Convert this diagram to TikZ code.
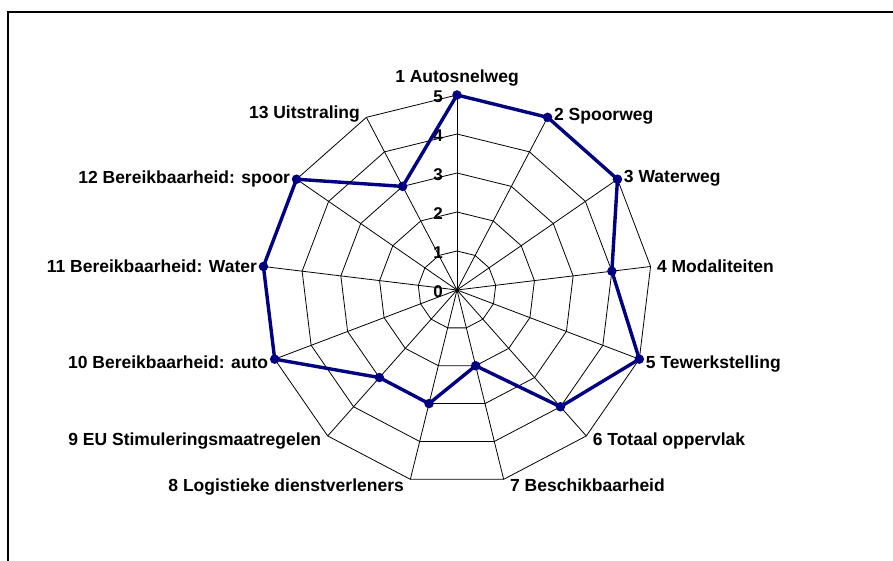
\documentclass[tikz,border=0pt]{standalone}
\usepackage{fontspec}
\setmainfont{Liberation Sans}
\usepackage{tikz}
\usepackage{xcolor}
\definecolor{navyline}{RGB}{0,0,128}

\begin{document}
\begin{tikzpicture}[x=1pt, y=1pt,
    gridline/.style={black, line width=0.8pt},
    serie/.style={draw=navyline, line width=3.4pt, line join=round},
    punt/.style={circle, fill=navyline, inner sep=0pt, minimum size=9.5pt},
    aslabel/.style={font=\fontsize{17.5}{20}\selectfont\bfseries, inner sep=2pt, outer sep=4.5pt, text depth=0pt},
    ticklabel/.style={font=\fontsize{17}{20}\selectfont\bfseries, inner sep=0pt, text depth=0pt, anchor=east}]

          % Variables
          \def \stap  {39}
          \def \nas   {13}

          % Picture size
          \useasboundingbox (-457,-271) rectangle (436,290);

          % Frame
          \draw[line width=1.3pt] (-449,-300) -- (-449,278) -- (460,278);

          \coordinate (O) at (0,0);

          % Spokes
          \foreach \k [evaluate=\k as \ang using 90-(\k-1)*360/\nas] in {1,...,\nas} {
            \coordinate (a\k) at (\ang:5*\stap);
            \draw[gridline] (O) -- (a\k);
          }

          % Rings
          \foreach \lvl in {1,...,5} {
            \draw[gridline] (90:\lvl*\stap)
              \foreach \k in {1,...,12} { -- ({90-\k*360/\nas}:\lvl*\stap) } -- cycle;
          }

          % Scale labels
          \foreach \lvl in {0,...,5} {
            \node[ticklabel] (t\lvl) at (-14,\lvl*\stap-2) {\lvl};
          }

          % Data
          \foreach \v [count=\k, evaluate=\k as \ang using 90-(\k-1)*360/\nas] in {5,5,5,4,5,4,2,3,3,5,5,5,3} {
            \coordinate (p\k) at (\ang:\v*\stap);
          }
          \draw[serie] (p1) \foreach \k in {2,...,\nas} { -- (p\k) } -- cycle;
          \foreach \k in {1,...,\nas} {
            \node[punt] (d\k) at (p\k) {};
          }

          % Axis labels
          \foreach \k/\txt/\anc/\dy in {
              1/{1 Autosnelweg}/south/5.5,
              2/{2 Spoorweg}/west/3,
              3/{3 Waterweg}/west/3,
              4/{4 Modaliteiten}/west/0,
              5/{5 Tewerkstelling}/west/-3,
              6/{6 Totaal oppervlak}/west/-3,
              7/{7 Beschikbaarheid}/west/-6,
              8/{8 Logistieke dienstverleners}/east/-6,
              9/{9 EU Stimuleringsmaatregelen}/east/-3,
              10/{10 Bereikbaarheid: auto}/east/-3,
              11/{11 Bereikbaarheid: Water}/east/0,
              12/{12 Bereikbaarheid: spoor}/east/2,
              13/{13 Uitstraling}/east/5} {
            \node[aslabel, anchor=\anc, yshift=\dy] (l\k) at (a\k) {\txt};
          }

        \end{tikzpicture}
\end{document}
